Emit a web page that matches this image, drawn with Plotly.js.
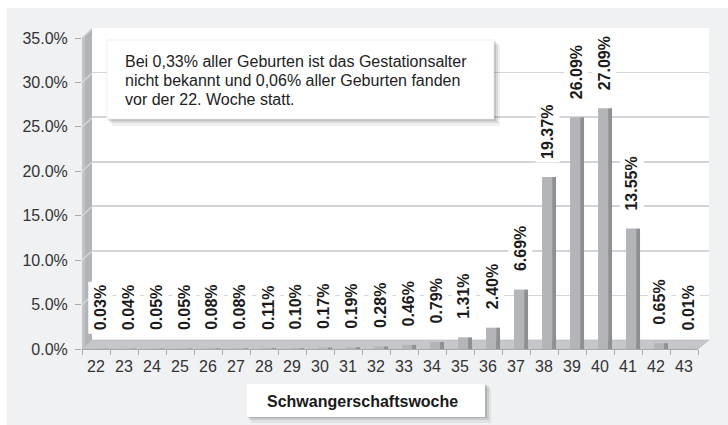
<!DOCTYPE html>
<html>
<head>
<meta charset="utf-8">
<script src="https://cdn.plot.ly/plotly-3.0.1.min.js"></script>
<style>html,body{margin:0;padding:0;background:#fff;}#chart{width:728px;height:425px;}</style>
</head>
<body>
<div id="chart"></div>
<script>
// ---- data ----
var weeks = ['22','23','24','25','26','27','28','29','30','31','32','33','34','35','36','37','38','39','40','41','42','43'];
var shares = [0.03,0.04,0.05,0.05,0.08,0.08,0.11,0.10,0.17,0.19,0.28,0.46,0.79,1.31,2.40,6.69,19.37,26.09,27.09,13.55,0.65,0.01];
var shareLabels = ['0.03%','0.04%','0.05%','0.05%','0.08%','0.08%','0.11%','0.10%','0.17%','0.19%','0.28%','0.46%','0.79%','1.31%','2.40%','6.69%','19.37%','26.09%','27.09%','13.55%','0.65%','0.01%'];
var yTicks = [0,5,10,15,20,25,30,35];
var yTickLabels = ['0.0%','5.0%','10.0%','15.0%','20.0%','25.0%','30.0%','35.0%'];
var noteLines = ['Bei 0,33% aller Geburten ist das Gestationsalter','nicht bekannt und 0,06% aller Geburten fanden','vor der 22. Woche statt.'];
var xTitle = 'Schwangerschaftswoche';

// ---- pixel helpers (plot area 82..709 x 28..349) ----
var L = 82, R = 709, T = 28, B = 349;
function PX(x){ return (x - L) / (R - L); }
function PY(y){ return (B - y) / (B - T); }
var FONT = 'Liberation Sans, Arial, sans-serif';

var shapes = [];
function rect(x0,y0,x1,y1,fill,layer,line){
  shapes.push({type:'rect',xref:'paper',yref:'paper',x0:PX(x0),x1:PX(x1),y0:PY(y1),y1:PY(y0),
    fillcolor:fill,line:line||{width:0},layer:layer||'below'});
}
function poly(pts,fill,layer,line){
  var d = pts.map(function(p,i){return (i?'L':'M')+PX(p[0])+','+PY(p[1]);}).join(' ')+' Z';
  shapes.push({type:'path',xref:'paper',yref:'paper',path:d,fillcolor:fill,line:line||{width:0},layer:layer||'below'});
}
// outer panel
rect(7,8,728,425,'#f0f1f3');
// back wall
rect(92,28,709,340,'#ffffff');
// left wall
poly([[82,349],[82,38],[92,28],[92,340]],'#b3b4b8');
poly([[82,349],[82,38],[85,35],[85,346]],'#c2c3c6');
// wall gridline slants
yTicks.forEach(function(v){
  if(v===0) return;
  var yf = 349 - v*311/35;
  shapes.push({type:'line',xref:'paper',yref:'paper',x0:PX(82),y0:PY(yf),x1:PX(92),y1:PY(yf-9),
    line:{color:'#d4d5d8',width:1.5},layer:'below'});
});
// floor
poly([[82,349],[698,349],[709,340],[92,340]],'#c6c7ca','below',{color:'#b4b5b8',width:0.6});
// note box with shadow
rect(112,45,500,126,'rgba(0,0,0,0.06)','above');
rect(110,43,498,123,'rgba(0,0,0,0.09)','above');
rect(108,41,496,121,'rgba(0,0,0,0.12)','above');
rect(107,40,494,119,'#ffffff','above',{color:'#e4e4e4',width:0.6});
// title box with shadow
rect(251,388,491,423,'rgba(0,0,0,0.06)','above');
rect(249,386,489,420,'rgba(0,0,0,0.10)','above');
rect(248,385,487,418,'rgba(0,0,0,0.13)','above');
rect(247,384,485,417,'#ffffff','above');

var annotations = [];
noteLines.forEach(function(t,i){
  annotations.push({xref:'paper',yref:'paper',x:PX(123),y:PY(61+i*19),xanchor:'left',yanchor:'middle',
    text:t,showarrow:false,font:{family:FONT,size:16,color:'#222'}});
});
annotations.push({xref:'paper',yref:'paper',x:PX(362),y:PY(401),xanchor:'center',yanchor:'middle',
  text:'<b>'+xTitle+'</b>',showarrow:false,font:{family:FONT,size:16,color:'#1a1a1a'}});
weeks.forEach(function(w,i){
  annotations.push({xref:'x2',yref:'y2',x:i,y:shares[i],xanchor:'center',yanchor:'bottom',
    textangle:-90,text:'<b>'+shareLabels[i]+'</b>',showarrow:false,bgcolor:'#ffffff',borderpad:3,
    xshift:4,yshift:14,font:{family:FONT,size:16,color:'#1a1a1a'}});
});

var traces = [
  {type:'scatter',x:[],y:[],xaxis:'x',yaxis:'y',hoverinfo:'skip',showlegend:false},
  {type:'bar',x:weeks,y:shares,xaxis:'x2',yaxis:'y2',width:0.36,offset:-0.07,
    marker:{color:'#b4b5b9',line:{width:0}},showlegend:false,hoverinfo:'x+y'},
  {type:'bar',x:weeks,y:shares,xaxis:'x2',yaxis:'y2',width:0.14,offset:0.29,
    marker:{color:'#8e8f93',line:{width:0}},showlegend:false,hoverinfo:'skip'}
];

var layout = {
  width:728,height:425,
  margin:{l:L,r:728-R,t:T,b:425-B,pad:0},
  paper_bgcolor:'#ffffff',plot_bgcolor:'rgba(0,0,0,0)',
  barmode:'overlay',showlegend:false,
  font:{family:FONT,size:16,color:'#333'},
  xaxis:{domain:[10/627,1],range:[0,1],anchor:'y',showgrid:false,zeroline:false,showticklabels:false,showline:false,ticks:''},
  yaxis:{domain:[9/321,1],range:[0,35],anchor:'x',tickmode:'array',tickvals:yTicks,showgrid:true,gridcolor:'#d4d5d8',gridwidth:1.6,
    zeroline:false,showticklabels:false,showline:false,ticks:''},
  xaxis2:{domain:[0,616/627],anchor:'y2',type:'category',range:[-0.5,21.5],showgrid:false,zeroline:false,
    showline:true,linecolor:'#a9aaad',linewidth:1,ticks:'outside',tickson:'boundaries',ticklen:5,tickcolor:'#a9aaad',
    ticklabelstandoff:3,tickfont:{family:FONT,size:16,color:'#333'},fixedrange:true},
  yaxis2:{domain:[0,311/321],anchor:'x2',range:[0,35],tickmode:'array',tickvals:yTicks,ticktext:yTickLabels,
    showgrid:false,zeroline:false,showline:false,ticks:'outside',ticklen:6,tickcolor:'#a9aaad',ticklabelstandoff:4,
    tickfont:{family:FONT,size:16,color:'#333'},fixedrange:true},
  shapes:shapes,
  annotations:annotations
};
Plotly.newPlot('chart',traces,layout,{displayModeBar:false,staticPlot:true});
</script>
</body>
</html>
